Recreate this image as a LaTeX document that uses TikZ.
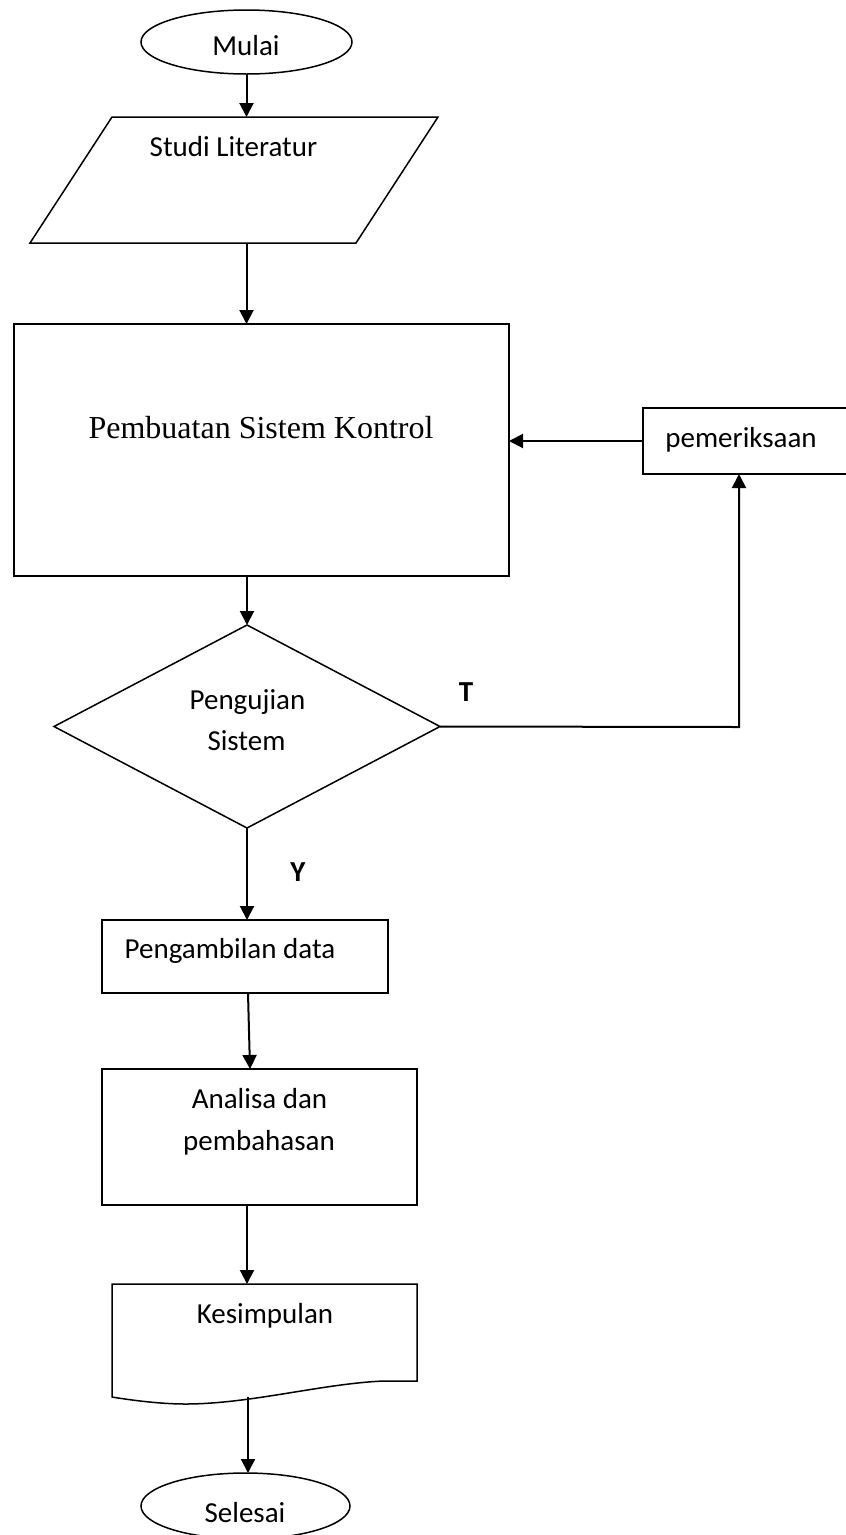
\documentclass[tikz,border=0pt]{standalone}
\usepackage{fontspec}
\setmainfont{Carlito}
\newfontfamily\timesf{Liberation Serif}
\usetikzlibrary{shapes.geometric,arrows.meta,calc}
\begin{document}
\begin{tikzpicture}[x=1pt,y=-1pt,
  shp/.style={draw,line width=1.5pt,inner sep=0pt,outer sep=0pt},
  lbl/.style={anchor=base,inner sep=0pt,font=\fontsize{29}{35}\selectfont},
  arr/.style={line width=2pt,-{Triangle[length=14pt,width=14pt]}}]
\useasboundingbox (0,0) rectangle (846,1535);
\clip (0,0) rectangle (846,1535);
\fill[white] (0,0) rectangle (846,1535);

% shapes
\node[shp,ellipse,minimum width=211pt,minimum height=64pt] (mulai) at (246.5,42) {};
\node[lbl] (tmulai) at (246,55) {Mulai};

\node[rectangle,minimum width=408pt,minimum height=126pt,inner sep=0pt,outer sep=0pt] (studi) at (234,180) {};
\draw[line width=1.5pt,line join=miter] (112,117) -- (438,117) -- (356,243) -- (30,243) -- cycle;
\node[lbl] (tstudi) at (233.5,156) {Studi Literatur};

\node[shp,rectangle,minimum width=495pt,minimum height=252pt] (pemb) at (261.5,450) {};
\node[lbl,font=\timesf\fontsize{32}{38}\selectfont] (tpemb) at (261,438) {Pembuatan Sistem Kontrol};

\node[shp,rectangle,minimum width=217pt,minimum height=66pt] (pem) at (751.5,441) {};
\node[lbl] (tpem) at (741,447) {pemeriksaan};

\node[shp,diamond,minimum width=386pt,minimum height=203pt] (diam) at (247,726.5) {};
\node[lbl] (tdiam1) at (247.5,709) {Pengujian};
\node[lbl] (tdiam2) at (246.5,750) {Sistem};

\node[lbl,font=\bfseries\fontsize{29}{35}\selectfont] (tT) at (466,701) {T};
\node[lbl,font=\bfseries\fontsize{29}{35}\selectfont] (tY) at (298,881) {Y};

\node[shp,rectangle,minimum width=286pt,minimum height=73pt] (peng) at (245,956.5) {};
\node[lbl] (tpeng) at (230,958) {Pengambilan data};

\node[shp,rectangle,minimum width=315pt,minimum height=136pt] (ana) at (259.5,1137) {};
\node[lbl] (tana1) at (259.5,1108) {Analisa dan};
\node[lbl] (tana2) at (259,1150) {pembahasan};

\node[rectangle,minimum width=305pt,minimum height=113pt,inner sep=0pt,outer sep=0pt] (kes) at (264.5,1340.5) {};
\draw[line width=1.5pt,line join=miter] (112,1284) -- (417,1284) -- (417,1381) -- (383,1381)
  .. controls (320,1384) and (250,1404) .. (185,1404)
  .. controls (160,1404) and (130,1400) .. (112,1397) -- cycle;
\node[lbl] (tkes) at (265,1323) {Kesimpulan};

\node[shp,ellipse,minimum width=209pt,minimum height=66pt] (sel) at (245.5,1506) {};
\node[lbl] (tsel) at (245,1522) {Selesai};

% connectors
\draw[arr] (mulai.south) -- (mulai.south |- studi.north);
\draw[arr] (mulai.south |- studi.south) -- (mulai.south |- pemb.north);
\draw[arr] (diam.north |- pemb.south) -- (diam.north);
\draw[arr] (diam.south) -- (diam.south |- peng.north);
\draw[arr] ([xshift=3pt]peng.south) -- ([xshift=-9.5pt]ana.north);
\draw[arr] (ana.south -| diam.south) -- (diam.south |- kes.north);
\coordinate (kesB) at (248,1397);
\draw[arr] (kesB) -- (kesB |- sel.north);
\draw[arr] (pem.west) -- (pem.west -| pemb.east);
\coordinate (tc) at (739,727);
\draw[arr] (diam.east) -- (tc) -- (tc |- pem.south);
\end{tikzpicture}
\end{document}
